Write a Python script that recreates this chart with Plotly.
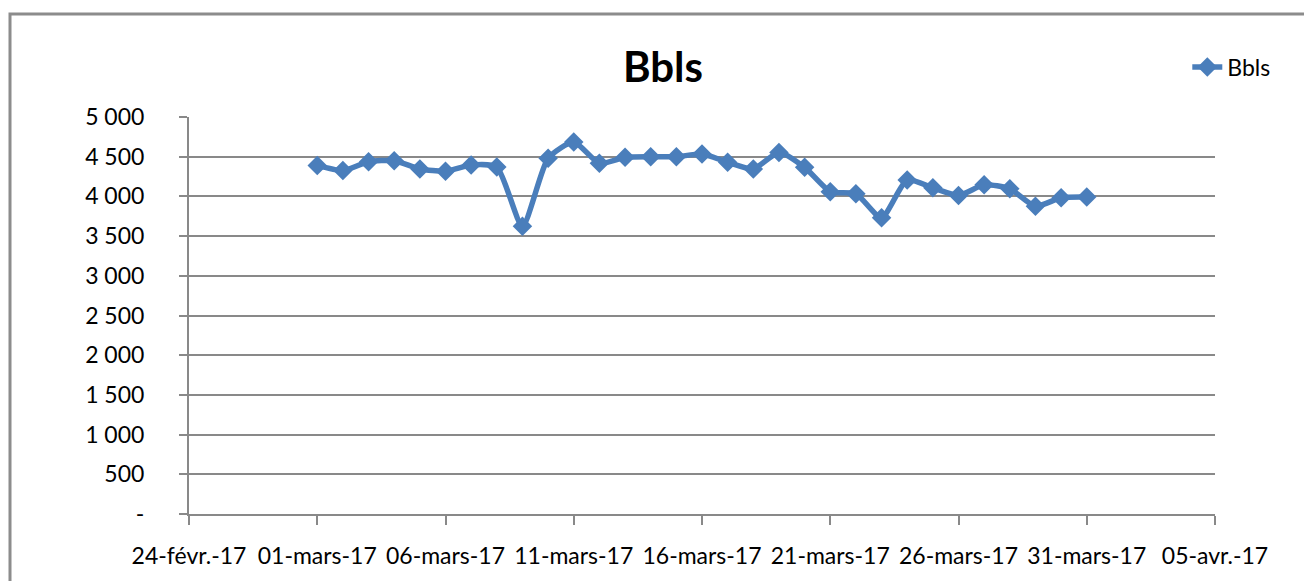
import plotly.graph_objects as go

dates = [f"2017-03-{d:02d}" for d in range(1, 32)]
bbls = [4390, 4325, 4437, 4450, 4346, 4317, 4396, 4370, 3625, 4480, 4685,
        4417, 4492, 4500, 4500, 4533, 4430, 4346, 4554, 4367, 4060, 4033,
        3730, 4208, 4108, 4012, 4146, 4096, 3875, 3983, 3992]

x_tickvals = ["2017-02-24", "2017-03-01", "2017-03-06", "2017-03-11", "2017-03-16",
              "2017-03-21", "2017-03-26", "2017-03-31", "2017-04-05"]
x_ticktext = ["24-févr.-17", "01-mars-17", "06-mars-17", "11-mars-17", "16-mars-17",
              "21-mars-17", "26-mars-17", "31-mars-17", "05-avr.-17"]
y_tickvals = [0, 500, 1000, 1500, 2000, 2500, 3000, 3500, 4000, 4500, 5000]
y_ticktext = ["-", "500", "1 000", "1 500", "2 000", "2 500", "3 000", "3 500",
              "4 000", "4 500", "5 000"]

BLUE = "#4a7ebb"
GRID = "#898989"
FONT = "Lato"

fig = go.Figure()
fig.add_trace(go.Scatter(
    x=dates, y=bbls, name="Bbls", mode="lines+markers",
    line=dict(color=BLUE, width=5.5, shape="spline", smoothing=0.6),
    marker=dict(symbol="diamond", size=15, color=BLUE),
))

fig.update_layout(
    width=1304, height=581,
    margin=dict(l=189, r=89, t=117, b=67),
    paper_bgcolor="white", plot_bgcolor="white",
    font=dict(family=FONT, size=23, color="black"),
    title=dict(text="<b>Bbls</b>", x=(663 - 189) / 1026, xref="paper", xanchor="center",
               y=1 - 67 / 581, yanchor="middle", yref="container",
               font=dict(family=FONT, size=42, color="black")),
    showlegend=True,
    legend=dict(x=0.973, y=1.126, xanchor="left", yanchor="middle",
                bgcolor="rgba(0,0,0,0)", font=dict(family=FONT, size=23)),
    xaxis=dict(
        range=["2017-02-24", "2017-04-05"], tickmode="array",
        tickvals=x_tickvals, ticktext=x_ticktext,
        showgrid=False, showline=True, linecolor=GRID, linewidth=2,
        ticks="outside", ticklen=9, tickwidth=2, tickcolor=GRID,
        ticklabelstandoff=11, zeroline=False,
    ),
    yaxis=dict(
        range=[0, 5000], tickmode="array",
        tickvals=y_tickvals, ticktext=y_ticktext,
        showgrid=True, gridcolor=GRID, gridwidth=1.5,
        showline=True, linecolor=GRID, linewidth=2,
        ticks="outside", ticklen=8, tickwidth=2, tickcolor=GRID,
        ticklabelstandoff=30, zeroline=False,
    ),
    shapes=[dict(type="rect", xref="paper", yref="paper",
                 x0=(10 - 189) / 1026, x1=(1320 - 189) / 1026,
                 y0=(514 - 600) / 397, y1=(514 - 14) / 397,
                 line=dict(color="#8c8c8c", width=3), fillcolor="rgba(0,0,0,0)",
                 layer="below")],
)

fig.write_html("out.html", config={"displayModeBar": False},
               post_script="document.body.style.margin='0';document.body.style.overflow='hidden';")
